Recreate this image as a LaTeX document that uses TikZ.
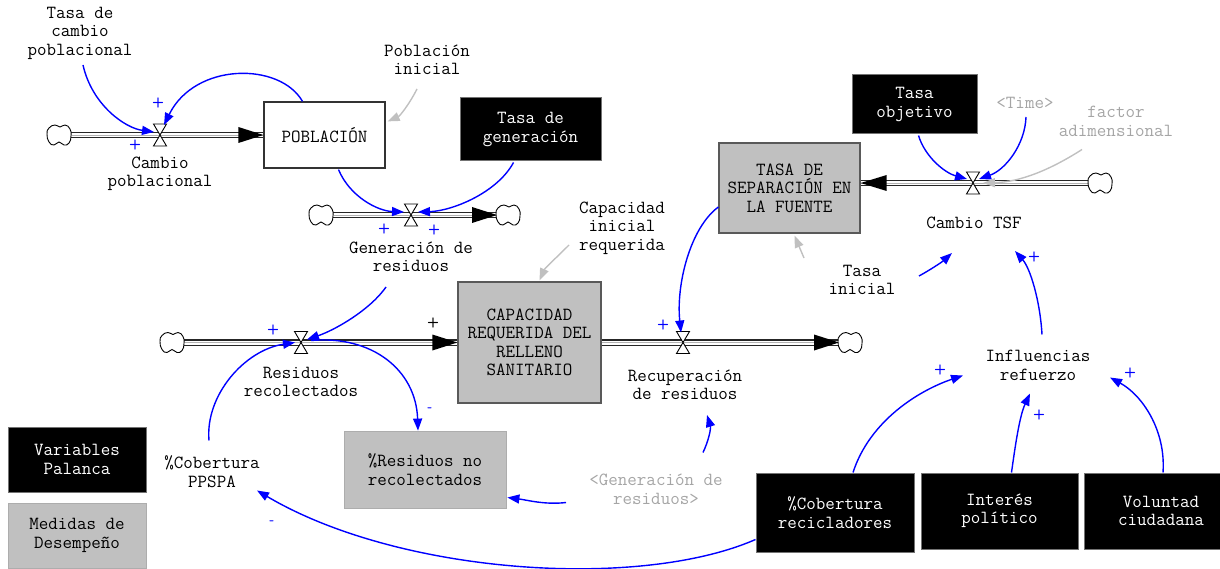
\documentclass[tikz,border=0pt]{standalone}
\usepackage{fontspec}
\usetikzlibrary{arrows.meta,calc}
\definecolor{vgrey}{RGB}{192,192,192}
\definecolor{vblue}{RGB}{0,0,255}
\definecolor{vgtext}{RGB}{165,165,165}
\tikzset{
  lbl/.style={font=\ttfamily\fontsize{18.5}{18.5}\selectfont, align=center, inner sep=0pt},
  glbl/.style={lbl, text=vgtext},
  stockbox/.style={lbl, draw=black!80, line width=1.2pt, fill=white},
  gstock/.style={lbl, draw=black!65, line width=1.3pt, fill=vgrey},
  lgbox/.style={lbl, draw=vgrey!90!black, line width=0.8pt, fill=vgrey},
  blkbox/.style={lbl, draw=black!55, line width=1pt, fill=black, text=white},
  sgn/.style={font=\sffamily\bfseries\fontsize{14}{14}\selectfont, text=vblue, inner sep=0pt},
  bsgn/.style={sgn, text=black},
  link/.style={draw=vblue, line width=1.4pt, -{Triangle[length=12pt,width=9pt]}},
  glink/.style={draw=vgrey, line width=1.4pt, -{Triangle[length=12pt,width=9pt]}},
  pipeout/.style={draw=black!85, line width=6.5pt},
  pipein/.style={draw=white, line width=4pt},
  pipemid/.style={draw=black!30, line width=0.8pt},
  valve/.pic={\draw[fill=white, line width=0.9pt] (-6.5,-11) -- (6.5,-11) -- (-6.5,11) -- (6.5,11) -- cycle;},
  cloud/.pic={\draw[fill=white, line width=0.9pt] plot[smooth cycle, tension=0.9] coordinates
     {(-12,-1) (-10,-7) (-4,-10) (1,-8) (6,-10) (11,-6) (12,1) (10,8) (5,10) (0,7) (-5,10) (-10,7)};},
}
\begin{document}
\begin{tikzpicture}[x=1pt,y=-1pt]
\useasboundingbox (0,0) rectangle (1220,569);

% ---------- nodes ----------
\node[lbl] (tcp) at (80,33) {Tasa de\\cambio\\poblacional};
\node[stockbox, minimum width=121pt, minimum height=66pt] (pob) at (324.5,135) {POBLACIÓN};
\node[lbl] (pini) at (427,60) {Población\\inicial};
\node[blkbox, minimum width=141pt, minimum height=63pt] (tgen) at (530.5,129.5) {Tasa de\\generación};
\node[lbl] (cpl) at (160,174) {Cambio\\poblacional};
\node[lbl] (gres) at (411,257) {Generación de\\residuos};
\node[lbl] (cini) at (622,228) {Capacidad\\inicial\\requerida};
\node[gstock, minimum width=143pt, minimum height=121pt] (cap) at (529.5,342.5) {CAPACIDAD\\REQUERIDA DEL\\RELLENO\\SANITARIO};
\node[lbl] (rrec) at (301,382) {Residuos\\recolectados};
\node[lbl] (recu) at (685,385) {Recuperación\\de residuos};
\node[gstock, minimum width=141pt, minimum height=90pt] (tsf) at (789.5,188) {TASA DE\\SEPARACIÓN EN\\LA FUENTE};
\node[blkbox, minimum width=125pt, minimum height=59pt] (tobj) at (914.5,104.5) {Tasa\\objetivo};
\node[glbl] (time) at (1025,103) {<Time>};
\node[glbl] (fadim) at (1116,121.5) {factor\\adimensional};
\node[lbl] (ctsf) at (974,223) {Cambio TSF};
\node[lbl] (tini) at (862,280) {Tasa\\inicial};
\node[lbl] (infl) at (1038,365.5) {Influencias\\refuerzo};
\node[lbl] (cppspa) at (212,471.5) {\%Cobertura\\PPSPA};
\node[lgbox, minimum width=162pt, minimum height=77pt] (resno) at (425,469.5) {\%Residuos no\\recolectados};
\node[glbl] (ggen) at (656,489.5) {<Generación de\\residuos>};
\node[blkbox, minimum width=138pt, minimum height=65pt] (varp) at (77,459.5) {Variables\\Palanca};
\node[lgbox, minimum width=138pt, minimum height=65pt] (medd) at (77,535.5) {Medidas de\\Desempeño};
\node[blkbox, minimum width=158pt, minimum height=79pt] (cobrec) at (835,512.5) {\%Cobertura\\recicladores};
\node[blkbox, minimum width=157pt, minimum height=76pt] (intp) at (999.5,511) {Interés\\político};
\node[blkbox, minimum width=154pt, minimum height=76pt] (volc) at (1161,511) {Voluntad\\ciudadana};

% ---------- valves and clouds ----------
\coordinate (v1) at (160,135);
\coordinate (v2) at (411,215);
\coordinate (v3) at (301,342.5);
\coordinate (v4) at (683,342.5);
\coordinate (v5) at (973,183);
\coordinate (c1) at (59,135);
\coordinate (c2) at (321,215);
\coordinate (c3) at (508,215);
\coordinate (c4) at (172,342.5);
\coordinate (c5) at (850,342.5);
\coordinate (c6) at (1100,183);
\coordinate (t5) at (tsf.east |- c6);

% ---------- pipes ----------
\foreach \a/\b in {c1/pob.west, c2/c3, c4/cap.west, cap.east/c5, c6/t5}{
  \draw[pipeout] (\a) -- (\b);
  \draw[pipein] (\a) -- (\b);
  \draw[pipemid] (\a) -- (\b);
}
\fill[black] (pob.west) -- ++(-25,-8) -- ++(0,16) -- cycle;
\fill[black] ([xshift=-11pt]c3) -- ++(-25,-8) -- ++(0,16) -- cycle;
\fill[black] (cap.west) -- ++(-25,-8) -- ++(0,16) -- cycle;
\fill[black] ([xshift=-11pt]c5) -- ++(-25,-8) -- ++(0,16) -- cycle;
\fill[black] (t5) -- ++(26,-8) -- ++(0,16) -- cycle;
\foreach \v in {v1,v2,v3,v4,v5} \pic at (\v) {valve};
\foreach \c in {c1,c2,c3,c4,c5,c6} \pic at (\c) {cloud};

% ---------- links ----------
\draw[link] ($(tcp)+(3,32)$) .. controls (92,105) and (125,128) .. ($(v1)+(-6,-3)$);
\draw[link] ($(pob.north)+(-22,0)$) .. controls (280,62) and (195,62) .. ($(v1)+(4,-10)$);
\draw[link] ($(pob.south)+(14,1)$) .. controls (350,197) and (378,211) .. ($(v2)+(-7,-3)$);
\draw[link] ($(tgen.south)+(-17,1)$) .. controls (497,193) and (452,211) .. ($(v2)+(7,-3)$);
\draw[glink] ($(pini)+(-10,29)$) .. controls (410,103) and (400,116) .. ($(pob.north east)+(2,20)$);
\draw[glink] ($(cini)+(-53,17)$) .. controls (556,258) and (545,268) .. ($(cap.north)+(10,-1)$);
\draw[link] ($(gres)+(-25,30)$) .. controls (370,310) and (335,330) .. ($(v3)+(6,-3)$);
\draw[link] ($(v3)+(10,-2)$) .. controls (372,335) and (416,370) .. ($(resno.north)+(-7,0)$);
\draw[link] ($(cppspa)+(-3,-31)$) .. controls (205,395) and (245,350) .. ($(v3)+(-6,0)$);
\draw[link] ($(tsf.west)+(0,19)$) .. controls (690,228) and (676,285) .. ($(v4)+(-2,-10)$);
\draw[link] ($(ggen)+(-90,13)$) .. controls (545,505) and (527,500) .. ($(resno.east)+(1,28)$);
\draw[link] ($(ggen)+(47,-37)$) .. controls (709,440) and (711,428) .. ($(recu)+(22,30)$);
\draw[link] ($(cobrec.west)+(0,27)$) .. controls (640,590) and (400,575) .. ($(cppspa)+(45,19)$);
\draw[link] ($(cobrec.north)+(18,0)$) .. controls (870,420) and (920,390) .. ($(infl)+(-75,10)$);
\draw[link] ($(intp.north)+(12,0)$) .. controls (1016,440) and (1020,415) .. ($(infl)+(-8,28)$);
\draw[link] ($(volc.north)+(2,0)$) .. controls (1166,430) and (1142,395) .. ($(infl)+(72,12)$);
\draw[link] ($(infl)+(4,-31)$) .. controls (1040,300) and (1030,268) .. ($(ctsf)+(41,28)$);
\draw[link] ($(tini)+(57,-4)$) .. controls (930,270) and (942,262) .. ($(ctsf)+(-22,30)$);
\draw[glink] ($(tini)+(-58,-22)$) -- ($(tsf.south)+(5,2)$);
\draw[link] ($(tobj.south)+(4,1)$) .. controls (925,157) and (945,173) .. ($(v5)+(-6,-4)$);
\draw[link] ($(time)+(1,14)$) .. controls (1025,145) and (1005,170) .. ($(v5)+(6,-4)$);
\draw[glink] ($(fadim)+(-34,28)$) .. controls (1050,170) and (1020,182) .. ($(v5)+(10,0)$);

% ---------- polarity signs ----------
\node[sgn] (s1) at (158,103) {+};
\node[sgn] (s2) at (135,145) {+};
\node[sgn] (s3) at (384,229) {+};
\node[sgn] (s4) at (434,230) {+};
\node[sgn] (s5) at (273,330) {+};
\node[bsgn] (s6) at (433,323) {+};
\node[sgn] (s7) at (430,410) {-};
\node[sgn] (s8) at (663,325) {+};
\node[sgn] (s9) at (272,523) {-};
\node[sgn] (s10) at (940,370) {+};
\node[sgn] (s11) at (1039,415) {+};
\node[sgn] (s12) at (1130,373) {+};
\node[sgn] (s13) at (1034,257) {+};
\end{tikzpicture}
\end{document}
